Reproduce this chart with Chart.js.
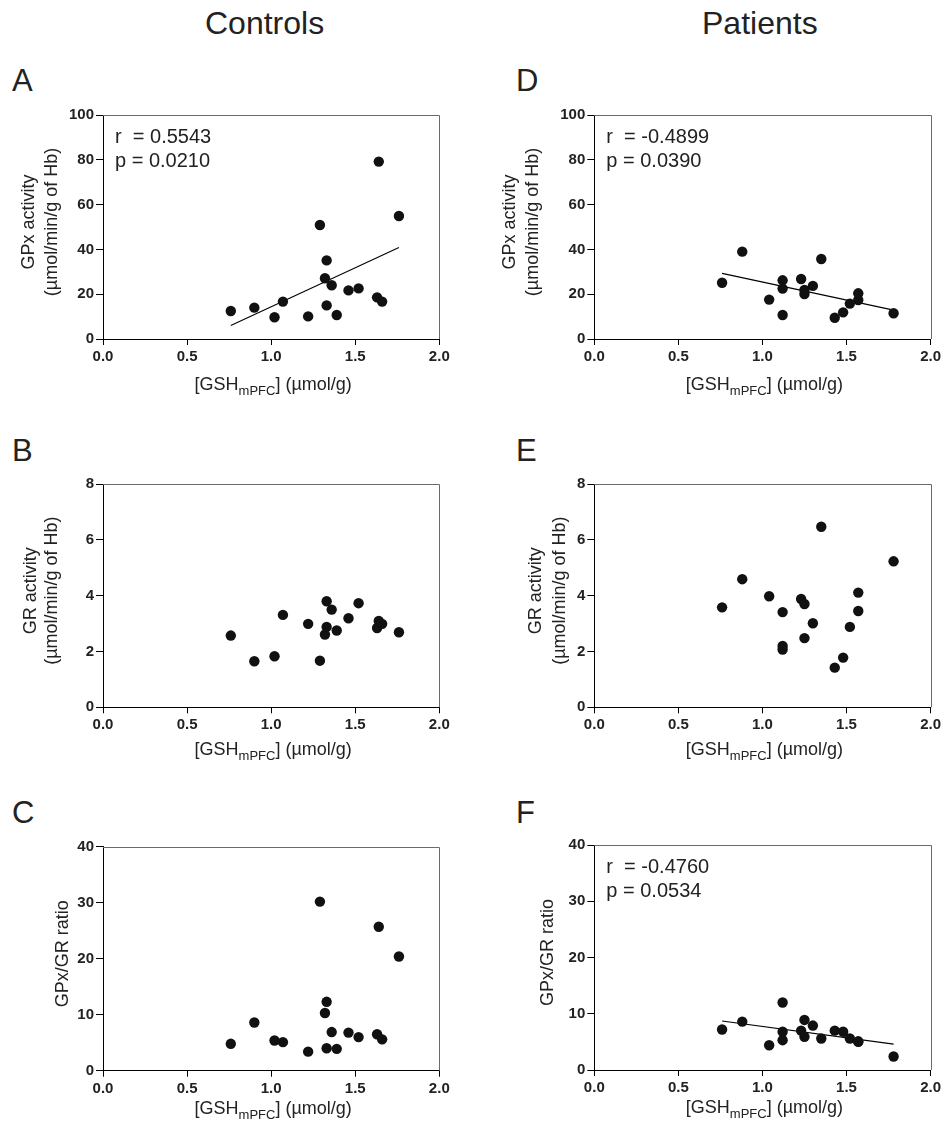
<!DOCTYPE html>
<html>
<head>
<meta charset="utf-8">
<script src="https://cdn.jsdelivr.net/npm/chart.js@4.4.1/dist/chart.umd.min.js"></script>
<style>
  html, body { margin:0; padding:0; background:#fff; }
  body { width:944px; height:1126px; position:relative; overflow:hidden;
         font-family:"Liberation Sans", Arial, Helvetica, sans-serif; color:#222; }
  canvas { position:absolute; }
  .lbl { position:absolute; white-space:nowrap; line-height:1; }
  .col { font-size:32px; }
  .let { font-size:31px; }
</style>
</head>
<body>
<div class="lbl col" style="left:205px; top:7px;">Controls</div>
<div class="lbl col" style="left:702px; top:7px;">Patients</div>
<div class="lbl let" style="left:12px; top:65px;">A</div>
<div class="lbl let" style="left:12px; top:435px;">B</div>
<div class="lbl let" style="left:12px; top:797px;">C</div>
<div class="lbl let" style="left:516px; top:65px;">D</div>
<div class="lbl let" style="left:516px; top:435px;">E</div>
<div class="lbl let" style="left:516px; top:797px;">F</div>

<canvas id="cA" width="472" height="310" style="left:0px; top:100px;"></canvas>
<canvas id="cB" width="472" height="310" style="left:0px; top:468px;"></canvas>
<canvas id="cC" width="472" height="296" style="left:0px; top:830px;"></canvas>
<canvas id="cD" width="472" height="310" style="left:472px; top:100px;"></canvas>
<canvas id="cE" width="472" height="310" style="left:472px; top:468px;"></canvas>
<canvas id="cF" width="472" height="296" style="left:472px; top:830px;"></canvas>

<script>
// ---------------- DATA ----------------
// Controls: [GSH mPFC] (µmol/g)
const ctrlGSH   = [0.76, 0.90, 1.02, 1.07, 1.22, 1.29, 1.32, 1.33, 1.33, 1.36, 1.39, 1.46, 1.52, 1.63, 1.64, 1.66, 1.76];
const ctrlGPx   = [12.5, 14.0, 9.7, 16.7, 10.1, 50.9, 27.1, 35.1, 15.0, 24.0, 10.7, 21.7, 22.6, 18.6, 79.2, 16.7, 54.9];
const ctrlGR    = [2.57, 1.65, 1.83, 3.31, 2.99, 1.67, 2.61, 2.88, 3.80, 3.50, 2.75, 3.19, 3.73, 2.84, 3.09, 2.99, 2.69];
const ctrlRatio = [4.8, 8.6, 5.4, 5.1, 3.4, 30.2, 10.3, 12.3, 4.0, 6.9, 3.9, 6.8, 6.0, 6.5, 25.7, 5.6, 20.4];

// Patients
const patGSH   = [0.76, 0.88, 1.04, 1.12, 1.12, 1.12, 1.23, 1.25, 1.25, 1.30, 1.35, 1.43, 1.48, 1.52, 1.57, 1.57, 1.78];
const patGPx   = [25.1, 39.0, 17.6, 26.2, 22.5, 10.7, 26.8, 21.9, 20.1, 23.7, 35.7, 9.5, 11.9, 15.8, 20.4, 17.4, 11.5];
const patGR    = [3.58, 4.59, 3.98, 2.20, 3.41, 2.07, 3.88, 3.70, 2.48, 3.01, 6.47, 1.42, 1.78, 2.88, 4.11, 3.45, 5.23];
const patRatio = [7.2, 8.6, 4.4, 12.0, 6.8, 5.3, 7.0, 5.9, 8.9, 7.9, 5.6, 7.0, 6.8, 5.6, 5.0, 5.1, 2.4];

// Regression lines (end points)
const fitCtrlGPxX  = [0.76, 1.76];
const fitCtrlGPxY  = [6.0, 40.8];
const fitPatGPxX   = [0.76, 1.78];
const fitPatGPxY   = [29.3, 12.9];
const fitPatRatioX = [0.76, 1.78];
const fitPatRatioY = [8.7, 4.6];

// Axis ticks
const xTicks = [0.0, 0.5, 1.0, 1.5, 2.0];
const yTicksGPx   = [0, 20, 40, 60, 80, 100];
const yTicksGR    = [0, 2, 4, 6, 8];
const yTicksRatio = [0, 10, 20, 30, 40];

// Text
const xTitleParts = ['[GSH', 'mPFC', '] (\u00B5mol/g)'];
const yTitleGPx   = ['GPx activity', '(\u00B5mol/min/g of Hb)'];
const yTitleGR    = ['GR activity', '(\u00B5mol/min/g of Hb)'];
const yTitleRatio = ['GPx/GR ratio'];
const statsA = ['r  = 0.5543', 'p = 0.0210'];
const statsD = ['r  = -0.4899', 'p = 0.0390'];
const statsF = ['r  = -0.4760', 'p = 0.0534'];

// ---------------- DRAWING ----------------
const FONT = '"Liberation Sans", Arial, Helvetica, sans-serif';
const INK = '#222';

const panelPlugin = {
  id: 'panelText',
  beforeDatasetsDraw(chart, args, o) {
    const a = chart.chartArea, ctx = chart.ctx;
    ctx.save();
    ctx.strokeStyle = '#6a6a6a';
    ctx.lineWidth = 1;
    ctx.beginPath();
    ctx.moveTo(a.left, Math.round(a.top) + 0.5);
    ctx.lineTo(Math.round(a.right) + 0.5, Math.round(a.top) + 0.5);
    ctx.lineTo(Math.round(a.right) + 0.5, a.bottom);
    ctx.stroke();
    ctx.restore();
  },
  afterDraw(chart, args, o) {
    const a = chart.chartArea, ctx = chart.ctx;
    ctx.save();
    ctx.fillStyle = INK;
    // y title (rotated)
    const cy = (a.top + a.bottom) / 2 - 5;
    ctx.font = '18px ' + FONT;
    ctx.textAlign = 'center';
    ctx.textBaseline = 'middle';
    o.yTitle.forEach((line, i) => {
      ctx.save();
      ctx.translate(o.yTitleX[i], cy);
      ctx.rotate(-Math.PI / 2);
      ctx.fillText(line, 0, 0);
      ctx.restore();
    });
    // x title with subscript
    ctx.textAlign = 'left';
    ctx.textBaseline = 'alphabetic';
    const main = '18px ' + FONT, sub = '13px ' + FONT;
    ctx.font = main; const w1 = ctx.measureText(xTitleParts[0]).width;
    ctx.font = sub;  const w2 = ctx.measureText(xTitleParts[1]).width;
    ctx.font = main; const w3 = ctx.measureText(xTitleParts[2]).width;
    let x = (a.left + a.right) / 2 - (w1 + w2 + w3) / 2 + 2;
    const by = a.bottom + o.xTitleDy;
    ctx.font = main; ctx.fillText(xTitleParts[0], x, by); x += w1;
    ctx.font = sub;  ctx.fillText(xTitleParts[1], x, by + 5); x += w2;
    ctx.font = main; ctx.fillText(xTitleParts[2], x, by);
    // statistics
    if (o.stats) {
      ctx.font = '20px ' + FONT;
      ctx.fillText(o.stats[0], a.left + 12, a.top + 28);
      ctx.fillText(o.stats[1], a.left + 12, a.top + 52);
    }
    ctx.restore();
  }
};

function pts(xs, ys) { return xs.map((x, i) => ({ x: x, y: ys[i] })); }

function makePanel(id, cfg) {
  const canvas = document.getElementById(id);
  const cl = cfg.canvasLeft, ct = cfg.canvasTop, W = canvas.width, H = canvas.height;
  const area = cfg.area;
  const yW = area.l - cl, padTop = area.t - ct, padRight = cl + W - area.r, xH = ct + H - area.b;
  const datasets = [{
    type: 'scatter',
    data: pts(cfg.xs, cfg.ys),
    pointRadius: 5.2,
    pointHoverRadius: 5.2,
    backgroundColor: '#111',
    borderWidth: 0,
    order: 1
  }];
  if (cfg.fitX) {
    datasets.push({
      type: 'scatter',
      data: pts(cfg.fitX, cfg.fitY),
      showLine: true,
      pointRadius: 0,
      borderColor: '#000',
      borderWidth: 1.1,
      order: 2
    });
  }
  const yt = cfg.yTicks;
  new Chart(canvas, {
    type: 'scatter',
    data: { datasets },
    options: {
      responsive: false,
      animation: false,
      devicePixelRatio: window.devicePixelRatio || 1,
      layout: { padding: { left: 0, top: padTop, right: padRight, bottom: 0 } },
      plugins: {
        legend: { display: false },
        tooltip: { enabled: false },
        panelText: {
          yTitle: cfg.yTitle,
          yTitleX: cfg.yTitleX.map(v => v - cl),
          xTitleDy: cfg.xTitleDy,
          stats: cfg.stats
        }
      },
      scales: {
        x: {
          type: 'linear',
          min: xTicks[0], max: xTicks[xTicks.length - 1],
          afterBuildTicks(s) { s.ticks = xTicks.map(v => ({ value: v })); },
          afterFit(s) { s.height = xH; },
          ticks: {
            callback: v => Number(v).toFixed(1),
            font: { family: FONT, size: 15, weight: 'bold' },
            color: INK, padding: 3, maxRotation: 0, autoSkip: false
          },
          grid: { drawOnChartArea: false, drawTicks: true, tickLength: 6, color: '#000', lineWidth: 1 },
          border: { display: true, color: '#000', width: 1 }
        },
        y: {
          type: 'linear',
          min: yt[0], max: yt[yt.length - 1],
          afterBuildTicks(s) { s.ticks = yt.map(v => ({ value: v })); },
          afterFit(s) { s.width = yW; },
          ticks: {
            callback: v => String(v),
            font: { family: FONT, size: 15, weight: 'bold' },
            color: INK, padding: 2, autoSkip: false
          },
          grid: { drawOnChartArea: false, drawTicks: true, tickLength: 7, color: '#000', lineWidth: 1 },
          border: { display: true, color: '#000', width: 1 }
        }
      }
    },
    plugins: [panelPlugin]
  });
}

makePanel('cA', { canvasLeft: 0, canvasTop: 100, area: { l: 103, r: 439.3, t: 115, b: 339 },
  xs: ctrlGSH, ys: ctrlGPx, fitX: fitCtrlGPxX, fitY: fitCtrlGPxY, yTicks: yTicksGPx,
  yTitle: yTitleGPx, yTitleX: [29, 52], xTitleDy: 51, stats: statsA });
makePanel('cB', { canvasLeft: 0, canvasTop: 468, area: { l: 103, r: 439.3, t: 484, b: 707.3 },
  xs: ctrlGSH, ys: ctrlGR, yTicks: yTicksGR,
  yTitle: yTitleGR, yTitleX: [31, 52], xTitleDy: 48 });
makePanel('cC', { canvasLeft: 0, canvasTop: 830, area: { l: 103, r: 439.3, t: 846.7, b: 1070.7 },
  xs: ctrlGSH, ys: ctrlRatio, yTicks: yTicksRatio,
  yTitle: yTitleRatio, yTitleX: [63], xTitleDy: 43 });
makePanel('cD', { canvasLeft: 472, canvasTop: 100, area: { l: 594.3, r: 930.7, t: 115, b: 339 },
  xs: patGSH, ys: patGPx, fitX: fitPatGPxX, fitY: fitPatGPxY, yTicks: yTicksGPx,
  yTitle: yTitleGPx, yTitleX: [510, 533], xTitleDy: 51, stats: statsD });
makePanel('cE', { canvasLeft: 472, canvasTop: 468, area: { l: 594.3, r: 930.7, t: 484, b: 707.3 },
  xs: patGSH, ys: patGR, yTicks: yTicksGR,
  yTitle: yTitleGR, yTitleX: [536, 560], xTitleDy: 48 });
makePanel('cF', { canvasLeft: 472, canvasTop: 830, area: { l: 594.3, r: 930.7, t: 845, b: 1070 },
  xs: patGSH, ys: patRatio, fitX: fitPatRatioX, fitY: fitPatRatioY, yTicks: yTicksRatio,
  yTitle: yTitleRatio, yTitleX: [548], xTitleDy: 43, stats: statsF });
</script>
</body>
</html>
